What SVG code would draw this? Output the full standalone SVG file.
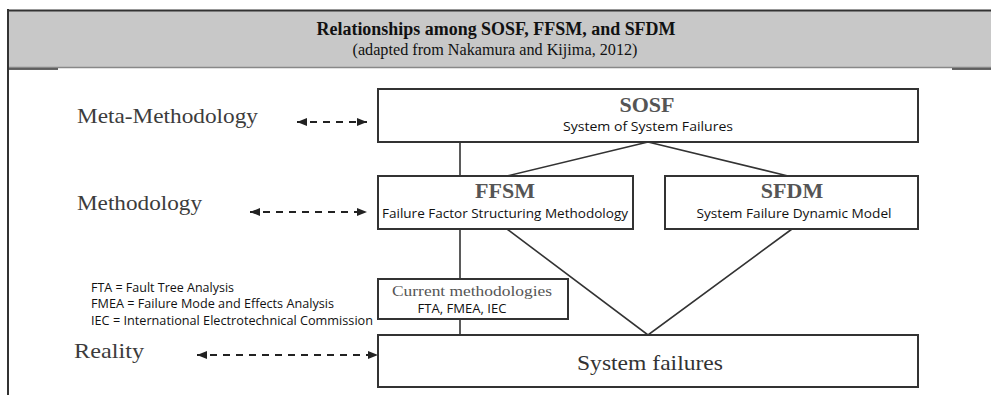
<svg xmlns="http://www.w3.org/2000/svg" width="991" height="395" viewBox="0 0 991 395">
<style>
.box{fill:#fff;stroke:#333;stroke-width:2}
.con{fill:none;stroke:#333;stroke-width:1.6}
.dash{fill:none;stroke:#222;stroke-width:2;stroke-dasharray:7 6}
.serif{font-family:"Liberation Serif","Times New Roman",serif}
.sans{font-family:"Open Sans","Liberation Sans",Arial,sans-serif}
.lvl{font-size:21px;fill:#3c3c3c}
.head{font-size:22px;font-weight:bold;fill:#555}
.sub{font-size:13px;fill:#111}
.abbr{font-size:12.5px;fill:#111}
</style>
<defs>
<marker id="ah" viewBox="0 0 10 8" refX="10" refY="4" markerWidth="10" markerHeight="8" markerUnits="userSpaceOnUse" orient="auto-start-reverse">
<path d="M0,0 L10,4 L0,8 z" fill="#222"/>
</marker>
</defs>
<rect width="991" height="395" fill="#fff"/>
<g id="header">
<rect x="9" y="11" width="982" height="56" fill="#c8c8c8"/>
<line x1="9" y1="10.5" x2="991" y2="10.5" stroke="#333" stroke-width="2"/>
<line x1="9" y1="67.5" x2="991" y2="67.5" stroke="#888" stroke-width="1.5"/>
<line x1="9" y1="69" x2="58" y2="69" stroke="#333" stroke-width="1.5"/>
<line x1="952" y1="69" x2="991" y2="69" stroke="#333" stroke-width="1.5"/>
<line x1="8" y1="9" x2="8" y2="395" stroke="#333" stroke-width="2"/>
<text class="serif" x="496" y="35" text-anchor="middle" font-size="18" font-weight="bold" fill="#111" textLength="359" lengthAdjust="spacingAndGlyphs">Relationships among SOSF, FFSM, and SFDM</text>
<text class="serif" x="495" y="55" text-anchor="middle" font-size="17" fill="#111" textLength="285" lengthAdjust="spacingAndGlyphs">(adapted from Nakamura and Kijima, 2012)</text>
</g>
<g id="levels">
<text class="serif lvl" x="77" y="123" textLength="181" lengthAdjust="spacingAndGlyphs">Meta-Methodology</text>
<text class="serif lvl" x="77" y="210" textLength="125" lengthAdjust="spacingAndGlyphs">Methodology</text>
<text class="serif lvl" x="74" y="358" textLength="70" lengthAdjust="spacingAndGlyphs">Reality</text>
</g>
<g id="abbreviations">
<text class="sans abbr" x="91" y="292" textLength="143" lengthAdjust="spacingAndGlyphs">FTA = Fault Tree Analysis</text>
<text class="sans abbr" x="91" y="308" textLength="243" lengthAdjust="spacingAndGlyphs">FMEA = Failure Mode and Effects Analysis</text>
<text class="sans abbr" x="91" y="325" textLength="282" lengthAdjust="spacingAndGlyphs">IEC = International Electrotechnical Commission</text>
</g>
<g id="connectors">
<path class="con" d="M460,142 V176 M460,229 V279 M460,319 V335"/>
<path class="con" d="M648,142 L507,176 M648,142 L788,176"/>
<path class="con" d="M507,229 L648,335 L792,229"/>
<line class="dash" x1="297" y1="122" x2="367" y2="122" marker-start="url(#ah)" marker-end="url(#ah)"/>
<line class="dash" x1="250" y1="212" x2="367" y2="212" marker-start="url(#ah)" marker-end="url(#ah)"/>
<line class="dash" x1="197" y1="355" x2="378" y2="355" marker-start="url(#ah)" marker-end="url(#ah)"/>
</g>
<g id="sosf">
<rect class="box" x="378" y="89" width="540" height="53"/>
<text class="serif head" x="647" y="112" text-anchor="middle">SOSF</text>
<text class="sans sub" x="648" y="131" text-anchor="middle" textLength="170" lengthAdjust="spacingAndGlyphs">System of System Failures</text>
</g>
<g id="ffsm">
<rect class="box" x="378" y="176" width="255" height="53"/>
<text class="serif head" x="505" y="198" text-anchor="middle">FFSM</text>
<text class="sans sub" x="505" y="218" text-anchor="middle" textLength="246" lengthAdjust="spacingAndGlyphs">Failure Factor Structuring Methodology</text>
</g>
<g id="sfdm">
<rect class="box" x="665" y="176" width="253" height="53"/>
<text class="serif head" x="792" y="198" text-anchor="middle">SFDM</text>
<text class="sans sub" x="794" y="218" text-anchor="middle" textLength="195" lengthAdjust="spacingAndGlyphs">System Failure Dynamic Model</text>
</g>
<g id="current">
<rect class="box" x="378" y="279" width="190" height="40"/>
<text class="serif" x="472" y="296" text-anchor="middle" font-size="14" fill="#555" textLength="160" lengthAdjust="spacingAndGlyphs">Current methodologies</text>
<text class="sans" x="462" y="313" text-anchor="middle" font-size="12" fill="#111" textLength="89" lengthAdjust="spacingAndGlyphs">FTA, FMEA, IEC</text>
</g>
<g id="failures">
<rect class="box" x="378" y="335" width="540" height="52"/>
<text class="serif" x="650" y="370" text-anchor="middle" font-size="22" fill="#333" textLength="146" lengthAdjust="spacingAndGlyphs">System failures</text>
</g>
</svg>
